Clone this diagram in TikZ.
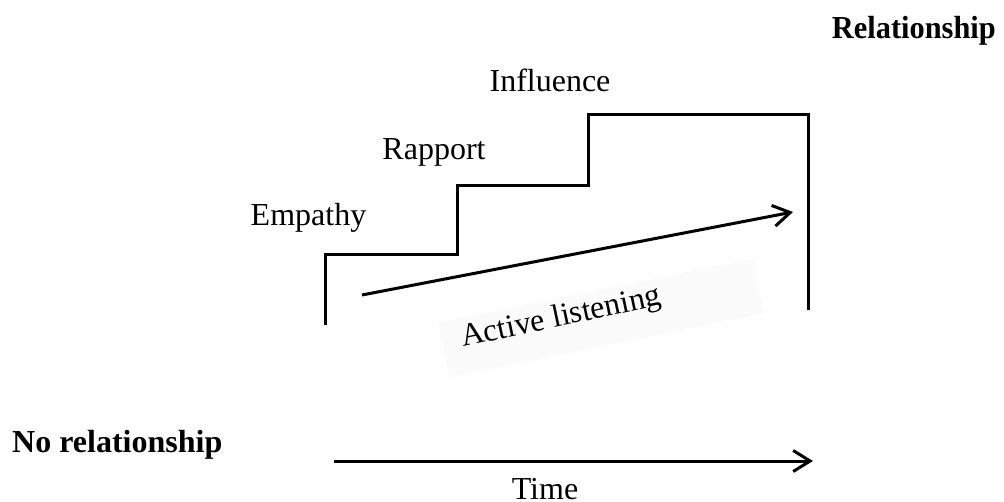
\documentclass[tikz,border=0pt]{standalone}
\usepackage{fontspec}
\setmainfont{Liberation Serif}
\usetikzlibrary{arrows.meta}
\begin{document}
\begin{tikzpicture}[x=1pt,y=-1pt,
  lbl/.style={font=\fontsize{32}{38}\selectfont, inner sep=0pt, anchor=base},
  boldlbl/.style={font=\fontsize{32}{38}\selectfont\bfseries, inner sep=0pt},
  stair/.style={line width=3pt},
  barb/.style={line width=3pt, -{Straight Barb[length=17pt,width=21pt,line width=3pt]}}]
\useasboundingbox (0,0) rectangle (1004,502);

% faint panel behind the rotated label
\node[fill=black!1.5, minimum width=321pt, minimum height=56pt, inner sep=0pt,
      rotate=11.5] (panel) at (601,318) {};

% staircase
\draw[stair] (325,325) -- (325,255) -- (457,255) -- (457,186) -- (588,186)
  -- (588,115) -- (808,115) -- (808,310);

% step labels
\node[lbl] (empathy) at (308.5,226) {Empathy};
\node[lbl] (rapport) at (434,160) {Rapport};
\node[lbl] (influence) at (550,92) {Influence};

% rising arrow and its label
\coordinate (alstart) at (362,295);
\coordinate (alend) at (793,212);
\draw[barb] (alstart) -- (alend);
\node[lbl, anchor=base west, rotate=12] (active) at (463,347) {Active listening};

% time axis
\coordinate (tstart) at (334,461);
\coordinate (tend) at (813,461);
\draw[barb] (tstart) -- (tend);
\node[lbl] (time) at (545,499) {Time};

% end states
\node[boldlbl, anchor=base east] (rel) at (996,39) {\scalebox{0.95}[1]{Relationship}};
\node[boldlbl, anchor=base west] (norel) at (12,452) {No relationship};
\end{tikzpicture}
\end{document}
